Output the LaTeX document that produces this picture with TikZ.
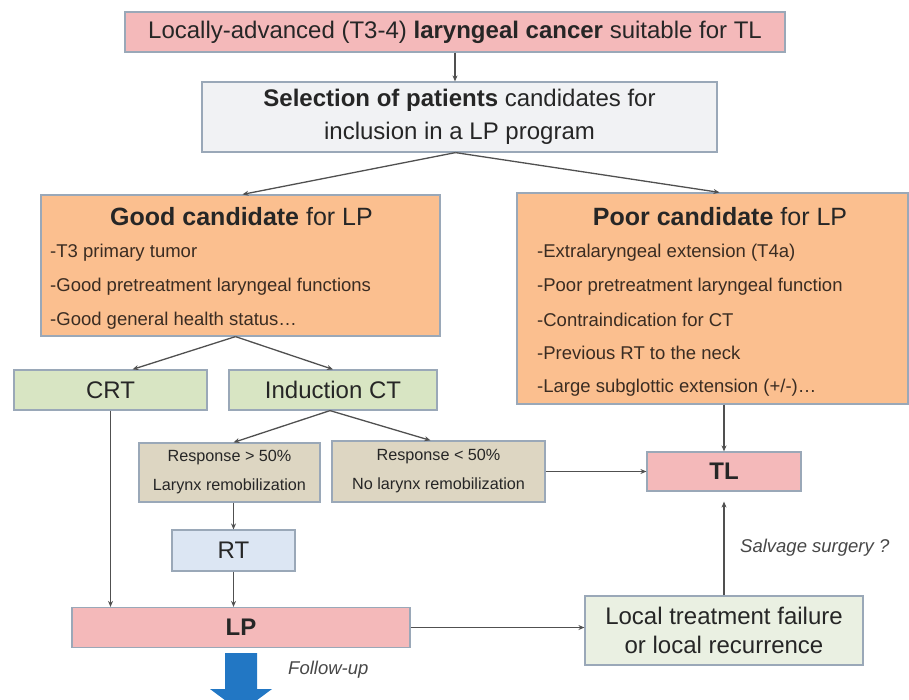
\documentclass[tikz,border=0pt]{standalone}
\usepackage{fontspec}
\setmainfont{Liberation Sans}
\usetikzlibrary{arrows.meta,calc}
\definecolor{pinkf}{HTML}{F4B9BA}
\definecolor{greyf}{HTML}{F1F2F4}
\definecolor{orangef}{HTML}{FBBF8F}
\definecolor{greenf}{HTML}{D8E5C3}
\definecolor{tanf}{HTML}{DDD6C2}
\definecolor{bluef}{HTML}{DCE6F3}
\definecolor{localf}{HTML}{EAF0E2}
\definecolor{edge}{HTML}{9AA8B8}
\definecolor{arrc}{HTML}{505050}
\definecolor{txt}{HTML}{262626}
\definecolor{itemc}{HTML}{3A2C22}
\definecolor{fup}{HTML}{2277C4}
\begin{document}
\begin{tikzpicture}[x=1pt,y=-1pt,
  box/.style={draw=edge, line width=1.2pt, inner sep=0pt, text=txt, align=center},
  big/.style={font=\fontsize{24}{33}\selectfont},
  head/.style={inner sep=0pt, text=txt, font=\fontsize{25}{28}\selectfont},
  item/.style={anchor=west, inner sep=0pt, text=itemc, font=\fontsize{18.5}{22}\selectfont},
  small/.style={font=\fontsize{16.2}{29}\selectfont},
  note/.style={inner sep=0pt, text=txt!85, font=\fontsize{18.5}{22}\selectfont\itshape},
  arr/.style={draw=arrc, line width=1.3pt, -{Stealth[length=6pt,width=5pt]}},
]
\useasboundingbox (0,0) rectangle (909,699);

\node[box, big, fill=pinkf, minimum width=660pt, minimum height=40pt] (top) at (455,32)
  {Locally-advanced (T3-4) \textbf{laryngeal cancer} suitable for TL};
\node[box, big, fill=greyf, minimum width=515pt, minimum height=70pt] (sel) at (459.5,117)
  {\textbf{Selection of patients} candidates for\\inclusion in a LP program};

\node[box, fill=orangef, minimum width=399pt, minimum height=141pt] (good) at (240.5,265.5) {};
\node[head] (goodh) at (241.5,217) {\textbf{Good candidate} for LP};
\node[item] (g1) at (50,253) {-T3 primary tumor};
\node[item] (g2) at (50,287) {-Good pretreatment laryngeal functions};
\node[item] (g3) at (50,321) {-Good general health status\dots};

\node[box, fill=orangef, minimum width=391pt, minimum height=211pt] (poor) at (712.5,298.5) {};
\node[head] (poorh) at (720,217) {\textbf{Poor candidate} for LP};
\node[item] (p1) at (537,253) {-Extralaryngeal extension (T4a)};
\node[item] (p2) at (537,287) {-Poor pretreatment laryngeal function};
\node[item] (p3) at (537,320) {-Contraindication for CT};
\node[item] (p4) at (537,353) {-Previous RT to the neck};
\node[item] (p5) at (537,388) {-Large subglottic extension (+/-)\dots};

\node[box, big, fill=greenf, minimum width=193pt, minimum height=40pt] (crt) at (110.5,390) {CRT};
\node[box, big, fill=greenf, minimum width=208pt, minimum height=40pt] (ind) at (333,390) {Induction CT};

\node[box, small, fill=tanf, minimum width=181pt, minimum height=59pt] (r1) at (229.5,472.5)
  {Response > 50\%\\Larynx remobilization};
\node[box, small, fill=tanf, minimum width=213pt, minimum height=61pt] (r2) at (438.5,471.5)
  {Response < 50\%\\No larynx remobilization};

\node[box, big, fill=pinkf, minimum width=154pt, minimum height=39pt] (tl) at (724,471.5) {\textbf{TL}};
\node[box, big, fill=bluef, minimum width=123pt, minimum height=41pt] (rt) at (233.5,550.5) {RT};
\node[box, big, fill=pinkf, minimum width=338pt, minimum height=40pt] (lp) at (241,627.5) {\textbf{LP}};
\node[box, big, fill=localf, minimum width=278pt, minimum height=69pt, font=\fontsize{24}{29}\selectfont] (loc) at (724,630.5)
  {Local treatment failure\\or local recurrence};

\node[note, anchor=west] (salv) at (740,548) {Salvage surgery ?};
\node[note, anchor=west] (fol) at (288,670) {Follow-up};

\draw[arr] (top.south) -- (top.south |- sel.north);
\draw[arr] ([xshift=-4pt]sel.south) -- ([xshift=2pt]good.north);
\draw[arr] ([xshift=-4pt]sel.south) -- ([xshift=7pt]poor.north);
\draw[arr] ([xshift=-5pt]good.south) -- ([xshift=22pt]crt.north);
\draw[arr] ([xshift=-5pt]good.south) -- (ind.north);
\draw[arr] ([xshift=-3pt]ind.south) -- ([xshift=4pt]r1.north);
\draw[arr] ([xshift=-3pt]ind.south) -- ([xshift=-8pt]r2.north);
\draw[arr] (r2.east) -- (tl.west);
\draw[arr] (tl.north |- poor.south) -- (tl.north);
\draw[arr] (loc.north) -- ([yshift=-10pt]tl.south);
\draw[arr] (crt.south) -- (crt.south |- lp.north);
\draw[arr] (rt.north |- r1.south) -- (rt.north);
\draw[arr] (rt.south) -- (rt.south |- lp.north);
\draw[arr] (lp.east) -- (loc.west |- lp.east);

\begin{scope}
  \clip (0,0) rectangle (909,699);
  \fill[fup] (225,653) -- (257,653) -- (257,689) -- (272,689) -- (241,712) -- (210,689) -- (225,689) -- cycle;
\end{scope}
\end{tikzpicture}
\end{document}
